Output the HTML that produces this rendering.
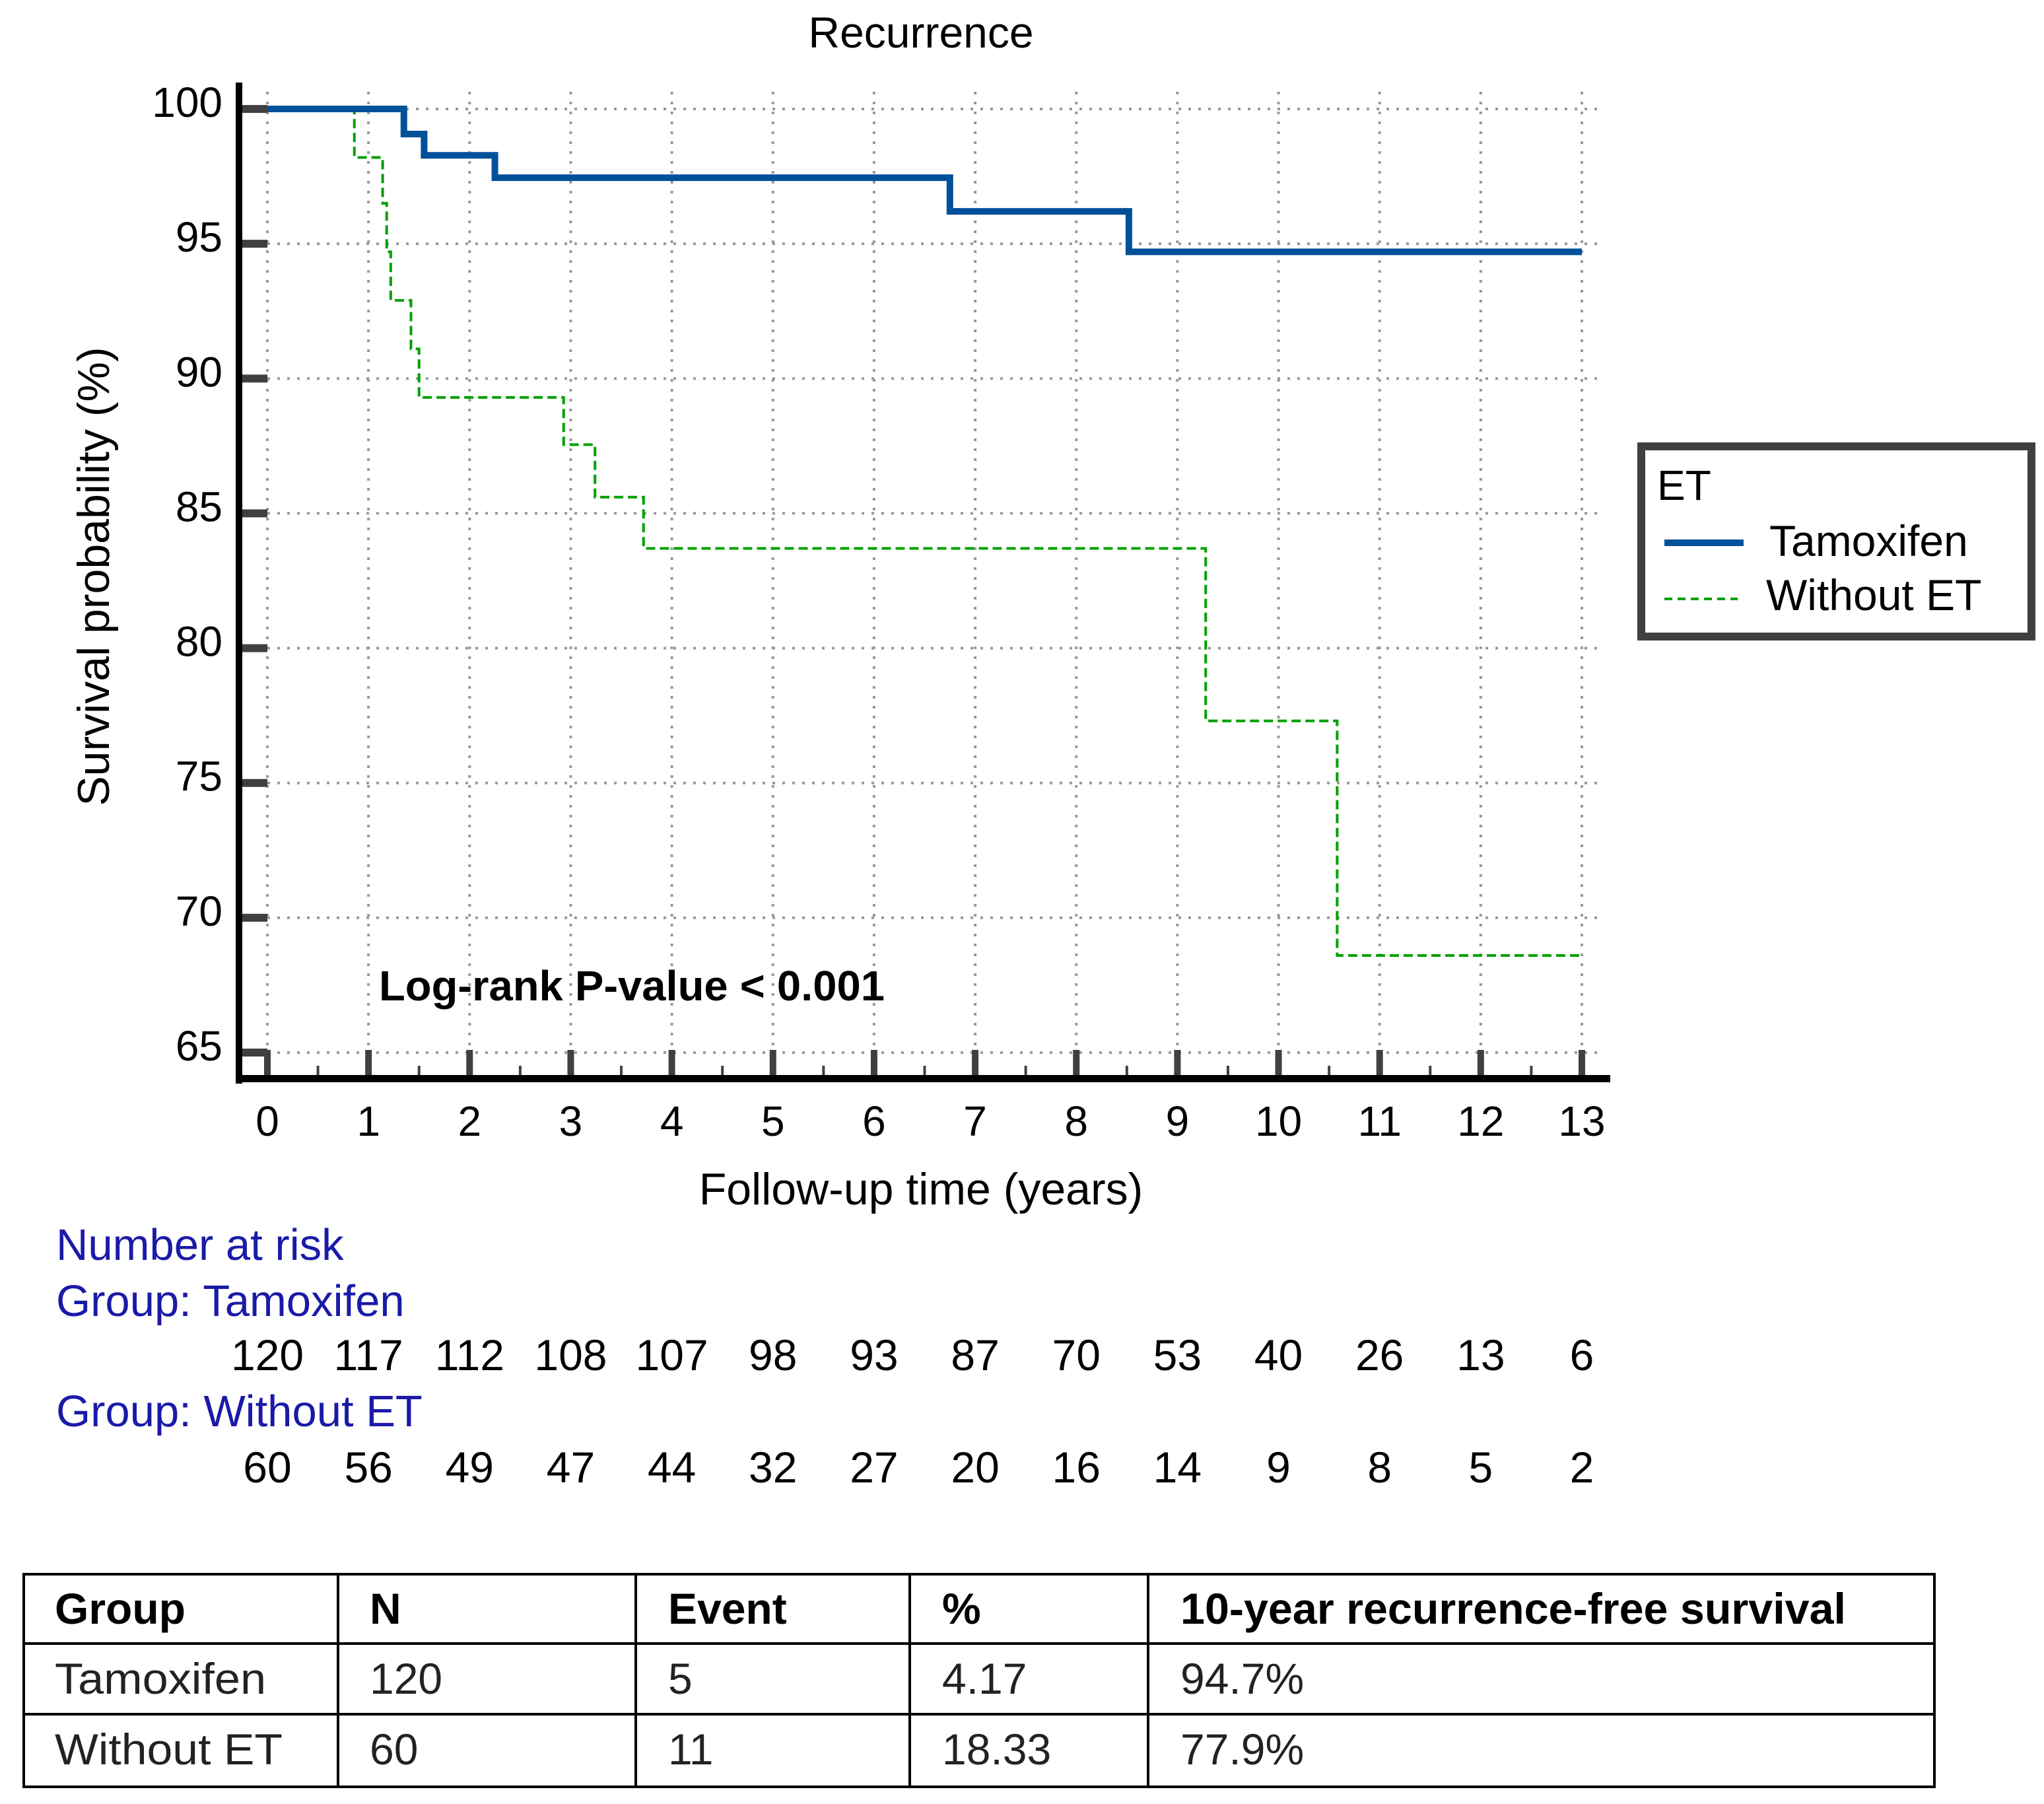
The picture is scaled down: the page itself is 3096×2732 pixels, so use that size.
<!DOCTYPE html>
<html><head><meta charset="utf-8"><style>
html,body{margin:0;padding:0;background:#fff;}
svg{display:block;}
text{font-family:"Liberation Sans",sans-serif;}
</style></head><body>
<svg id="chart" width="3096" height="2732" viewBox="0 0 3096 2732" xmlns="http://www.w3.org/2000/svg">
<g id="grid"></g>
<g id="axes"></g>
<g id="series"></g>
<g id="labels"></g>
<text x="1395" y="72" font-size="66" text-anchor="middle">Recurrence</text>
<text transform="translate(165,873) rotate(-90)" font-size="68" text-anchor="middle">Survival probability (%)</text>
<text x="1395" y="1824" font-size="68" text-anchor="middle">Follow-up time (years)</text>
<text x="574" y="1515" font-size="64" font-weight="bold" textLength="766" lengthAdjust="spacingAndGlyphs">Log-rank P-value &lt; 0.001</text>
<g>
<rect x="2486" y="676" width="591" height="288" fill="#fff" stroke="#404040" stroke-width="12"/>
<text x="2510" y="757" font-size="64">ET</text>
<line x1="2521" y1="822" x2="2641" y2="822" stroke="#00509a" stroke-width="10"/>
<text x="2680" y="842" font-size="66">Tamoxifen</text>
<line x1="2521" y1="907" x2="2632" y2="907" stroke="#00a000" stroke-width="4" stroke-dasharray="12 8"/>
<text x="2675" y="924" font-size="66">Without ET</text>
</g>
<g fill="#1a1aa8" font-size="67">
<text x="85" y="1908">Number at risk</text>
<text x="85" y="1993">Group:  Tamoxifen</text>
<text x="85" y="2160">Group:  Without ET</text>
</g>
<g id="risk"></g>
<g font-size="66">
<rect x="36" y="2384" width="2894" height="322" fill="none" stroke="#000" stroke-width="4"/>
<line x1="36" y1="2489" x2="2930" y2="2489" stroke="#000" stroke-width="4"/>
<line x1="36" y1="2596" x2="2930" y2="2596" stroke="#000" stroke-width="4"/>
<line x1="512" y1="2384" x2="512" y2="2706" stroke="#000" stroke-width="4"/>
<line x1="963" y1="2384" x2="963" y2="2706" stroke="#000" stroke-width="4"/>
<line x1="1378" y1="2384" x2="1378" y2="2706" stroke="#000" stroke-width="4"/>
<line x1="1739" y1="2384" x2="1739" y2="2706" stroke="#000" stroke-width="4"/>
<g font-weight="bold">
<text x="83" y="2459">Group</text><text x="560" y="2459">N</text><text x="1012" y="2459">Event</text><text x="1427" y="2459">%</text><text x="1788" y="2459" textLength="1008" lengthAdjust="spacingAndGlyphs">10-year recurrence-free survival</text>
</g>
<g fill="#222">
<text x="83" y="2565" textLength="320" lengthAdjust="spacingAndGlyphs">Tamoxifen</text><text x="560" y="2565">120</text><text x="1012" y="2565">5</text><text x="1427" y="2565">4.17</text><text x="1788" y="2565">94.7%</text>
</g>
<g fill="#222">
<text x="83" y="2672" textLength="345" lengthAdjust="spacingAndGlyphs">Without ET</text><text x="560" y="2672">60</text><text x="1012" y="2672">11</text><text x="1427" y="2672">18.33</text><text x="1788" y="2672">77.9%</text>
</g>
</g>
</svg>
<script>
const xTicks=[0,1,2,3,4,5,6,7,8,9,10,11,12,13];
const yTicks=[65,70,75,80,85,90,95,100];
const tamTimes=[0,1.35,1.55,2.25,6.75,8.52,13];
const tamSurv=[100,99.07,98.28,97.45,96.2,94.7,94.7];
const woTimes=[0,0.86,1.14,1.18,1.22,1.42,1.50,2.93,3.24,3.72,9.28,10.58,13];
const woSurv=[100,98.2,96.5,94.7,92.9,91.1,89.3,87.55,85.6,83.7,77.3,68.6,68.6];
const riskTam=[120,117,112,108,107,98,93,87,70,53,40,26,13,6];
const riskWo=[60,56,49,47,44,32,27,20,16,14,9,8,5,2];
const NS="http://www.w3.org/2000/svg";
const X=t=>405+t*(2396-405)/13;
const Y=v=>165+(100-v)*(1594-165)/35;
function mk(p,tag,attrs){const e=document.createElementNS(NS,tag);for(const k in attrs)e.setAttribute(k,attrs[k]);p.appendChild(e);return e;}
const grid=document.getElementById('grid'),axes=document.getElementById('axes'),series=document.getElementById('series'),labels=document.getElementById('labels'),risk=document.getElementById('risk');
xTicks.forEach(t=>{
 const l=mk(grid,'line',{x1:X(t),y1:139,x2:X(t),y2:1620,stroke:'#999','stroke-width':4,'stroke-dasharray':'4 11'});
 
 
 const tk=mk(axes,'rect',{x:X(t)-5,y:1590,width:10,height:40,fill:'#404040'});
 
 
 if(t<13){const m=mk(axes,'rect',{x:X(t+0.5)-2,y:1614,width:4,height:16,fill:'#404040'});
 
 }
 const tx=mk(labels,'text',{x:X(t),y:1720,'font-size':64,'text-anchor':'middle'});tx.textContent=t;
 
 
});
yTicks.forEach(v=>{
 const l=mk(grid,'line',{x1:X(0),y1:Y(v),x2:2426,y2:Y(v),stroke:'#999','stroke-width':4,'stroke-dasharray':'4 11'});
 
 
 const tk=mk(axes,'rect',{x:366,y:Y(v)-6,width:X(0)-366,height:12,fill:'#404040'});
 
 
 const tx=mk(labels,'text',{x:337,y:Y(v)+12,'font-size':64,'text-anchor':'end'});tx.textContent=v;
 
 
});
const ya=mk(axes,'rect',{x:357,y:125,width:10,height:1516,fill:'#000'});


const xa=mk(axes,'rect',{x:357,y:1628,width:2082,height:11,fill:'#000'});


function stepPath(ts,vs){let d='M'+X(ts[0])+' '+Y(vs[0]);for(let i=1;i<ts.length;i++){d+=' H'+X(ts[i])+' V'+Y(vs[i]);}return d;}
const pw=mk(series,'path',{d:stepPath(woTimes,woSurv),fill:'none',stroke:'#00a000','stroke-width':4,'stroke-dasharray':'14 7'});


const pt=mk(series,'path',{d:stepPath(tamTimes,tamSurv),fill:'none',stroke:'#00509a','stroke-width':10});


riskTam.forEach((n,i)=>{const tx=mk(risk,'text',{x:X(xTicks[i]),y:2075,'font-size':66,'text-anchor':'middle'});tx.textContent=n;
 
 });
riskWo.forEach((n,i)=>{const tx=mk(risk,'text',{x:X(xTicks[i]),y:2245,'font-size':66,'text-anchor':'middle'});tx.textContent=n;
 
 });
</script>
</body></html>
